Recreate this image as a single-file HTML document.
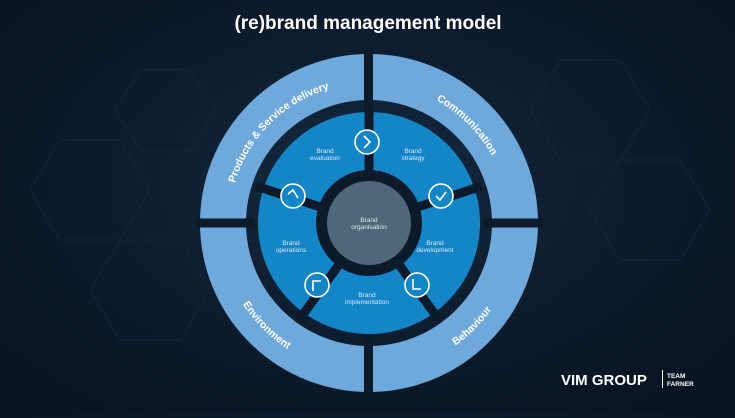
<!DOCTYPE html>
<html><head><meta charset="utf-8"><style>
html,body{margin:0;padding:0}
body{width:735px;height:413px;overflow:hidden;background:radial-gradient(ellipse at 50% 45%,#142a40 0%,#0c1a2b 55%,#08121f 100%);font-family:"Liberation Sans",sans-serif}
</style></head><body>
<svg width="735" height="413" viewBox="0 0 735 413" xmlns="http://www.w3.org/2000/svg">
<g fill="none" stroke="#162b40" stroke-width="1.2" opacity="0.6">
<polygon points="560,60 620,60 650,110 620,160 560,160 530,110"/>
<polygon points="620,160 680,160 710,210 680,260 620,260 590,210"/>
<polygon points="60,140 120,140 150,190 120,240 60,240 30,190"/>
<polygon points="120,240 180,240 210,290 180,340 120,340 90,290"/>
<polygon points="140,70 190,70 215,110 190,150 140,150 115,110"/>
</g>
<text x="368" y="29" text-anchor="middle" fill="#fff" font-size="19" font-weight="bold">(re)brand management model</text>
<defs>
<path id="tp" d="M229,223 A140,140 0 0 1 509,223"/>
<path id="bp" d="M219,223 A150,150 0 0 0 519,223"/>
</defs>
<circle cx="369" cy="223" r="146" fill="none" stroke="#6fa8da" stroke-width="46"/>
<g fill="#0c1a2b">
<rect x="364" y="50" width="9" height="60"/>
<rect x="364" y="336" width="9" height="60"/>
<rect x="195" y="218.5" width="60" height="9"/>
<rect x="483" y="218.5" width="60" height="9"/>
</g>
<circle cx="369" cy="223" r="111" fill="#1486c8"/>
<g stroke="#0c1a2b" stroke-width="9">
<line x1="369" y1="223" x2="369" y2="100"/>
<line x1="369" y1="223" x2="482" y2="186"/>
<line x1="369" y1="223" x2="439" y2="320"/>
<line x1="369" y1="223" x2="299" y2="320"/>
<line x1="369" y1="223" x2="256" y2="186"/>
</g>
<circle cx="369" cy="223" r="53" fill="#0c1a2b"/>
<circle cx="369" cy="223" r="42" fill="#4e6879"/>
<g fill="#1486c8" stroke="#fff" stroke-width="1.6">
<circle cx="367" cy="142" r="12"/>
<circle cx="441" cy="196" r="12"/>
<circle cx="417" cy="285" r="12"/>
<circle cx="317" cy="285" r="12"/>
<circle cx="293" cy="196" r="12"/>
</g>
<g fill="none" stroke="#fff" stroke-width="1.6">
<polyline points="364,136 370,142 364,148"/>
<polyline points="436,196 440,200 446,192"/>
<polyline points="413,279 413,289 421,289"/>
<polyline points="313,291 313,281 321,281"/>
<polyline points="288,194 293,190 298,198"/>
</g>
<g fill="#dbe9f5" font-size="6.5" text-anchor="middle">
<text x="325" y="153">Brand</text><text x="325" y="160">evaluation</text>
<text x="413" y="153">Brand</text><text x="413" y="160">strategy</text>
<text x="291" y="245">Brand</text><text x="291" y="252">operations</text>
<text x="435" y="245">Brand</text><text x="435" y="252">development</text>
<text x="367" y="297">Brand</text><text x="367" y="304">implementation</text>
<text x="369" y="222">Brand</text><text x="369" y="229">organisation</text>
</g>
<g fill="#fff" font-size="10.5" font-weight="bold" text-anchor="middle">
<text><textPath href="#tp" startOffset="25%">Products &amp; Service delivery</textPath></text>
<text><textPath href="#tp" startOffset="75%">Communication</textPath></text>
<text><textPath href="#bp" startOffset="25%">Environment</textPath></text>
<text><textPath href="#bp" startOffset="75%">Behaviour</textPath></text>
</g>
<text x="561" y="385" fill="#fff" font-size="15" font-weight="bold">VIM GROUP</text>
<rect x="662" y="370" width="1" height="18" fill="#fff"/>
<text x="667" y="378" fill="#fff" font-size="6.5" font-weight="bold">TEAM</text>
<text x="667" y="386" fill="#fff" font-size="6.5" font-weight="bold">FARNER</text>
</svg>
</body></html>
